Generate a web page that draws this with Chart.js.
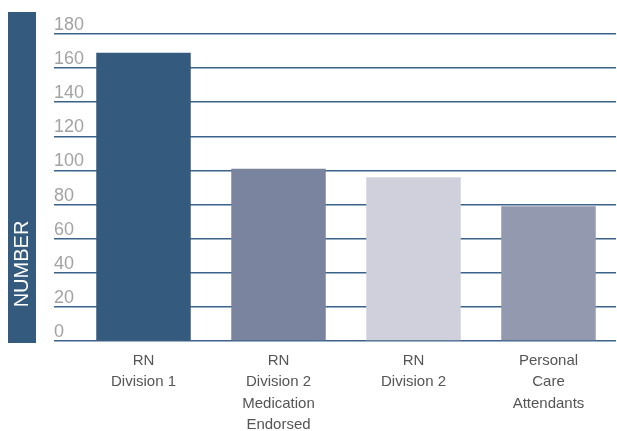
<!DOCTYPE html>
<html>
<head>
<meta charset="utf-8">
<script src="https://cdn.jsdelivr.net/npm/chart.js@4/dist/chart.umd.min.js"></script>
<style>
  html, body { margin: 0; padding: 0; background: #fff; }
  #chart { display: block; }
</style>
</head>
<body>
<canvas id="chart" width="617" height="431"></canvas>
<script>
// values
const categories = [
  ["RN", "Division 1"],
  ["RN", "Division 2", "Medication", "Endorsed"],
  ["RN", "Division 2"],
  ["Personal", "Care", "Attendants"],
];
const counts = [169, 101, 96, 79];
const barColors = ["#345a7d", "#7a849e", "#cfd0dc", "#9399ae"];
const axisTitle = "NUMBER";
const yMin = 0;
const yMax = 180;
const yStep = 20;

const NAVY = "#345a7d";

// dark band with the rotated axis title on the far left
const sideBand = {
  id: "sideBand",
  beforeDraw(chart) {
    const { ctx, chartArea } = chart;
    const top = chartArea.top - 22;
    const bottom = chartArea.bottom + 2;
    ctx.save();
    ctx.fillStyle = NAVY;
    ctx.fillRect(8, top, 28, bottom - top);
    ctx.translate(22.5, 264);
    ctx.rotate(-Math.PI / 2);
    ctx.fillStyle = "#ffffff";
    ctx.font = "20px 'Liberation Sans', Arial, sans-serif";
    ctx.textAlign = "center";
    ctx.textBaseline = "middle";
    ctx.fillText(axisTitle, 0, 0);
    ctx.restore();
  },
};

new Chart(document.getElementById("chart"), {
  type: "bar",
  data: {
    labels: categories,
    datasets: [
      {
        data: counts,
        backgroundColor: barColors,
        borderWidth: 0,
        categoryPercentage: 1,
        barPercentage: 0.7,
      },
    ],
  },
  plugins: [sideBand],
  options: {
    responsive: false,
    animation: false,
    layout: { padding: { left: 54, right: 1, top: 34, bottom: 0 } },
    plugins: {
      legend: { display: false },
      tooltip: { enabled: false },
    },
    scales: {
      x: {
        grid: { display: false, drawTicks: false },
        border: { display: false },
        ticks: {
          color: "#555",
          padding: 9,
          maxRotation: 0,
          autoSkip: false,
          font: { family: "'Liberation Sans', Arial, sans-serif", size: 15, lineHeight: 1.43 },
        },
        afterFit(scale) {
          scale.height = 90;
        },
      },
      y: {
        min: yMin,
        max: yMax,
        border: { display: false },
        grid: {
          color: "#3b6288",
          lineWidth: 1.5,
          drawTicks: true,
          tickLength: 22,
          tickColor: "#3b6288",
          tickWidth: 1.5,
        },
        ticks: {
          stepSize: yStep,
          mirror: true,
          padding: -22,
          labelOffset: -9,
          color: "#a3a3a3",
          font: { family: "'Liberation Sans', Arial, sans-serif", size: 18 },
        },
        afterFit(scale) {
          scale.width = 22;
        },
      },
    },
  },
});
</script>
</body>
</html>
